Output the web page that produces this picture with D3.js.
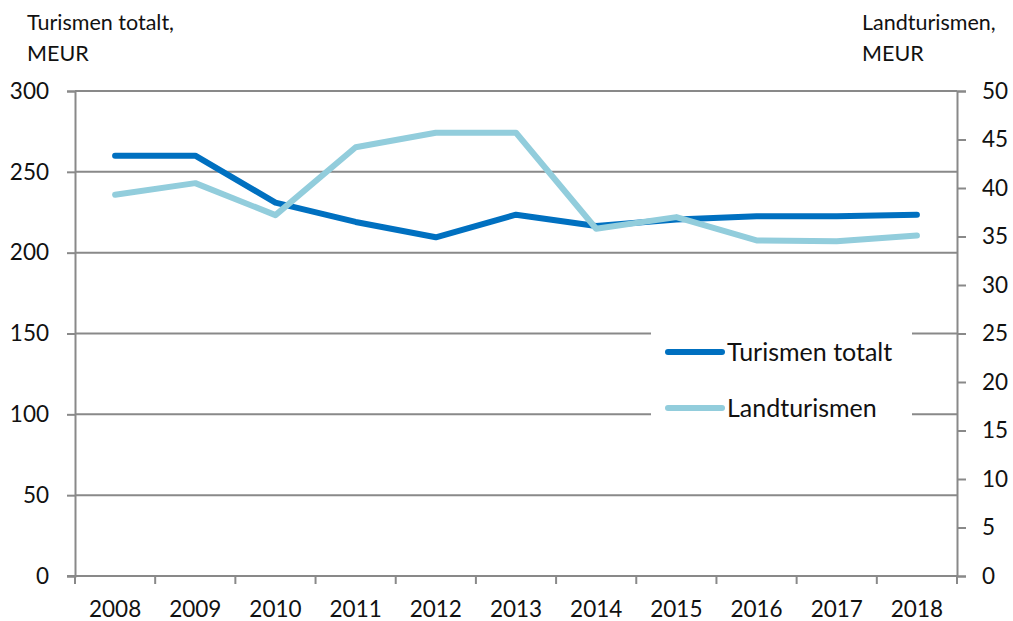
<!DOCTYPE html>
<html>
<head>
<meta charset="utf-8">
<script src="https://cdn.jsdelivr.net/npm/d3@7"></script>
<style>
  body { margin: 0; background: #fff; }
  svg { display: block; font-family: Lato, "Open Sans", sans-serif; }
</style>
</head>
<body>
<svg id="chart" width="1013" height="621"></svg>
<script>
const years = ['2008', '2009', '2010', '2011', '2012', '2013', '2014', '2015', '2016', '2017', '2018']
const totalt = [260, 260, 231, 219, 209.5, 223.5, 216.5, 220.5, 222.5, 222.5, 223.5]
const landturism = [39.3, 40.5, 37.2, 44.2, 45.7, 45.7, 35.8, 37.0, 34.6, 34.5, 35.1]
const leftTicks = [0, 50, 100, 150, 200, 250, 300]
const rightTicks = [0, 5, 10, 15, 20, 25, 30, 35, 40, 45, 50]

const gridColor = '#898989'
const blue = '#0070C0'
const lightBlue = '#92CDDC'
const textColor = '#111'

const svg = d3.select('#chart')

const x = d3.scaleBand().domain(years).range([75, 957])
const yL = d3.scaleLinear().domain([0, 300]).range([576, 91])
const yR = d3.scaleLinear().domain([0, 50]).range([576, 91])

// gridlines
svg.append('g')
    .selectAll('line')
    .data(leftTicks.filter(d => d > 0))
    .enter()
    .append('line')
    .attr('x1', 75)
    .attr('x2', 957)
    .attr('y1', d => yL(d))
    .attr('y2', d => yL(d))
    .attr('stroke', gridColor)
    .attr('stroke-width', 2)

// left axis
const leftAxis = svg.append('g')
    .attr('transform', 'translate(75,0)')
    .call(d3.axisLeft(yL).tickValues(leftTicks).tickSize(8).tickPadding(18))
leftAxis.select('.domain').attr('stroke', gridColor).attr('stroke-width', 2)
leftAxis.selectAll('.tick line').attr('stroke', gridColor).attr('stroke-width', 2)
leftAxis.selectAll('text')
    .attr('font-size', 22.5).attr('fill', textColor).attr('font-family', 'Lato')

// right axis
const rightAxis = svg.append('g')
    .attr('transform', 'translate(957,0)')
    .call(d3.axisRight(yR).tickValues(rightTicks).tickSize(9).tickPadding(16))
rightAxis.select('.domain').attr('stroke', gridColor).attr('stroke-width', 2)
rightAxis.selectAll('.tick line').attr('stroke', gridColor).attr('stroke-width', 2)
rightAxis.selectAll('text')
    .attr('font-size', 22.5).attr('fill', textColor).attr('font-family', 'Lato')

// bottom axis, ticks on band edges
const bottom = svg.append('g')
bottom.append('line')
    .attr('x1', 67).attr('x2', 957)
    .attr('y1', 576).attr('y2', 576)
    .attr('stroke', gridColor).attr('stroke-width', 2)
bottom.selectAll('.xtick')
    .data(years.concat(['end']))
    .enter()
    .append('line')
    .attr('class', 'xtick')
    .attr('x1', (d, i) => i < years.length ? x(d) : x.range()[1])
    .attr('x2', (d, i) => i < years.length ? x(d) : x.range()[1])
    .attr('y1', 576).attr('y2', 584)
    .attr('stroke', gridColor).attr('stroke-width', 2)
bottom.selectAll('text')
    .data(years)
    .enter()
    .append('text')
    .attr('x', d => x(d) + x.bandwidth() / 2)
    .attr('y', 617)
    .attr('text-anchor', 'middle')
    .attr('font-size', 22.5)
    .attr('fill', textColor)
    .text(d => d)

// legend background
svg.append('rect')
    .attr('x', 651).attr('y', 318)
    .attr('width', 261).attr('height', 122)
    .attr('fill', '#fff')

// lines
const lineL = d3.line().x((d, i) => x(years[i]) + x.bandwidth() / 2).y(d => yL(d))
const lineR = d3.line().x((d, i) => x(years[i]) + x.bandwidth() / 2).y(d => yR(d))

svg.append('path')
    .datum(totalt)
    .attr('d', lineL)
    .attr('fill', 'none')
    .attr('stroke', blue)
    .attr('stroke-width', 6)
    .attr('stroke-linecap', 'round')
    .attr('stroke-linejoin', 'round')

svg.append('path')
    .datum(landturism)
    .attr('d', lineR)
    .attr('fill', 'none')
    .attr('stroke', lightBlue)
    .attr('stroke-width', 6)
    .attr('stroke-linecap', 'round')
    .attr('stroke-linejoin', 'round')

// legend
const legendItems = [
    {name: 'Turismen totalt', color: blue, y: 352},
    {name: 'Landturismen', color: lightBlue, y: 408}
]
const legend = svg.append('g')
legend.selectAll('line')
    .data(legendItems)
    .enter()
    .append('line')
    .attr('x1', 668).attr('x2', 722)
    .attr('y1', d => d.y).attr('y2', d => d.y)
    .attr('stroke', d => d.color)
    .attr('stroke-width', 6)
    .attr('stroke-linecap', 'round')
legend.selectAll('text')
    .data(legendItems)
    .enter()
    .append('text')
    .attr('x', 727)
    .attr('y', d => d.y + 9)
    .attr('font-size', 25)
    .attr('fill', textColor)
    .text(d => d.name)

// axis titles
const titles = svg.append('g').attr('font-size', 21.5).attr('fill', textColor)
titles.append('text').attr('x', 27).attr('y', 30).text('Turismen totalt,')
titles.append('text').attr('x', 27).attr('y', 61).text('MEUR')
titles.append('text').attr('x', 862).attr('y', 30).text('Landturismen,')
titles.append('text').attr('x', 862).attr('y', 61).text('MEUR')
</script>
</body>
</html>
